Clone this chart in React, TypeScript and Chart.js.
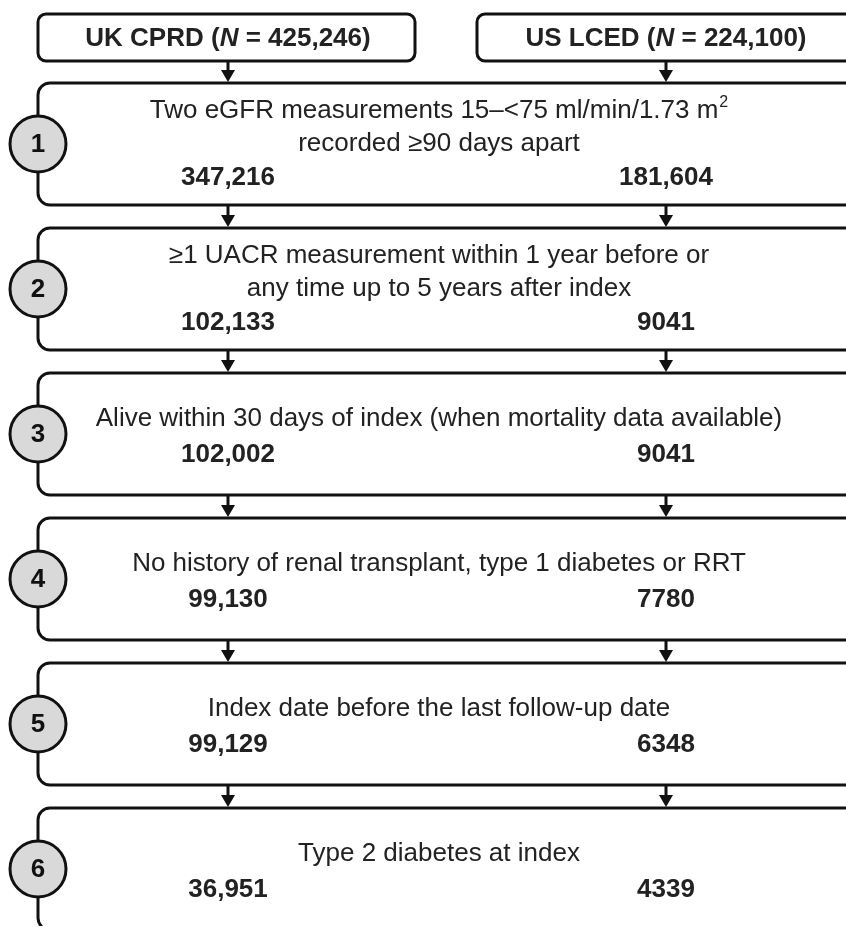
import React, { useEffect, useRef } from 'react';
import { Chart, registerables } from 'chart.js';

Chart.register(...registerables);

// ---- data ----
const cohortNames = ['UK CPRD', 'US LCED'];
const cohortTotals = [425246, 224100];
const stepIds = [1, 2, 3, 4, 5, 6];
const stepCriteria: string[][] = [
  ['Two eGFR measurements 15–<75 ml/min/1.73 m²', 'recorded ≥90 days apart'],
  ['≥1 UACR measurement within 1 year before or', 'any time up to 5 years after index'],
  ['Alive within 30 days of index (when mortality data available)'],
  ['No history of renal transplant, type 1 diabetes or RRT'],
  ['Index date before the last follow-up date'],
  ['Type 2 diabetes at index'],
];
const ukCounts = [347216, 102133, 102002, 99130, 99129, 36951];
const usCounts = [181604, 9041, 9041, 7780, 6348, 4339];

// ---- layout (scale units) ----
const W = 846;
const H = 926;
const COL_X = [228, 666];
const TEXT_X = 439;
const BOX_LEFT = 38;
const BOX_RIGHT = 900;
const Y_MIN = 1 - 144 / 145;
const Y_MAX = 1 + 782 / 145;
const HEADER_Y = 1 - 106.5 / 145;

const FONT = '"Liberation Sans", Arial, Helvetica, sans-serif';
const LINE = '#111111';
const TEXT = '#222222';

function fmt(n: number): string {
  if (n < 10000) return String(n);
  const s = String(n);
  let out = '';
  for (let i = 0; i < s.length; i++) {
    if (i > 0 && (s.length - i) % 3 === 0) out += ',';
    out += s[i];
  }
  return out;
}

function roundRectPath(ctx: CanvasRenderingContext2D, x0: number, y0: number, x1: number, y1: number, r: number) {
  ctx.beginPath();
  ctx.moveTo(x0 + r, y0);
  ctx.lineTo(x1 - r, y0);
  ctx.arcTo(x1, y0, x1, y0 + r, r);
  ctx.lineTo(x1, y1 - r);
  ctx.arcTo(x1, y1, x1 - r, y1, r);
  ctx.lineTo(x0 + r, y1);
  ctx.arcTo(x0, y1, x0, y1 - r, r);
  ctx.lineTo(x0, y0 + r);
  ctx.arcTo(x0, y0, x0 + r, y0, r);
  ctx.closePath();
}

function drawArrow(ctx: CanvasRenderingContext2D, x: number, yFrom: number, yTo: number) {
  const head = 12;
  ctx.beginPath();
  ctx.moveTo(x, yFrom);
  ctx.lineTo(x, yTo - head + 1);
  ctx.lineWidth = 3;
  ctx.strokeStyle = LINE;
  ctx.stroke();
  ctx.beginPath();
  ctx.moveTo(x - 7, yTo - head);
  ctx.lineTo(x + 7, yTo - head);
  ctx.lineTo(x, yTo);
  ctx.closePath();
  ctx.fillStyle = LINE;
  ctx.fill();
}

function drawCriterion(ctx: CanvasRenderingContext2D, text: string, cx: number, cy: number) {
  const main = text.replace('²', '');
  const hasSup = text.indexOf('²') >= 0;
  ctx.font = `26px ${FONT}`;
  const wMain = ctx.measureText(main).width;
  let wSup = 0;
  if (hasSup) {
    ctx.font = `16px ${FONT}`;
    wSup = ctx.measureText('2').width + 1;
  }
  const x0 = cx - (wMain + wSup) / 2;
  ctx.fillStyle = TEXT;
  ctx.textAlign = 'left';
  ctx.textBaseline = 'middle';
  ctx.font = `26px ${FONT}`;
  ctx.fillText(main, x0, cy);
  if (hasSup) {
    ctx.font = `16px ${FONT}`;
    ctx.fillText('2', x0 + wMain + 1, cy - 8);
  }
}

function drawHeader(ctx: CanvasRenderingContext2D, name: string, total: number, cx: number, cy: number) {
  const segs: [string, string][] = [
    [name + ' (', `bold 26px ${FONT}`],
    ['N', `italic bold 26px ${FONT}`],
    [' = ' + fmt(total) + ')', `bold 26px ${FONT}`],
  ];
  let w = 0;
  for (const [t, f] of segs) {
    ctx.font = f;
    w += ctx.measureText(t).width;
  }
  let x = cx - w / 2;
  ctx.fillStyle = TEXT;
  ctx.textAlign = 'left';
  ctx.textBaseline = 'middle';
  for (const [t, f] of segs) {
    ctx.font = f;
    ctx.fillText(t, x, cy);
    x += ctx.measureText(t).width;
  }
}

const flowPlugin = {
  id: 'flowPlugin',
  afterDatasetsDraw(chart: any) {
    const ctx: CanvasRenderingContext2D = chart.ctx;
    const xs = chart.scales.x;
    const ys = chart.scales.y;
    const px = (v: number) => xs.getPixelForValue(v);
    const py = (v: number) => ys.getPixelForValue(v);
    const half = 61;
    ctx.save();

    // header boxes
    const hy = py(HEADER_Y);
    const hTop = hy - 23.5;
    const hBot = hy + 23.5;
    const headerBoxes = [
      [px(BOX_LEFT), px(415)],
      [px(477), px(BOX_RIGHT)],
    ];
    headerBoxes.forEach(([a, b], i) => {
      roundRectPath(ctx, a, hTop, b, hBot, 8);
      ctx.fillStyle = '#ffffff';
      ctx.fill();
      ctx.lineWidth = 3;
      ctx.strokeStyle = LINE;
      ctx.stroke();
      drawHeader(ctx, cohortNames[i], cohortTotals[i], px(COL_X[i]), hy + 1);
    });

    // step boxes
    stepIds.forEach((id, i) => {
      const cy = py(id);
      const top = cy - half;
      const bot = cy + half;
      const prevBottom = i === 0 ? hBot : py(stepIds[i - 1]) + half;
      COL_X.forEach((cx) => drawArrow(ctx, px(cx), prevBottom + 1, top - 1));

      roundRectPath(ctx, px(BOX_LEFT), top, px(BOX_RIGHT), bot, 12);
      ctx.fillStyle = '#ffffff';
      ctx.fill();
      ctx.lineWidth = 3;
      ctx.strokeStyle = LINE;
      ctx.stroke();

      // circle
      ctx.beginPath();
      ctx.arc(px(BOX_LEFT), cy, 28, 0, Math.PI * 2);
      ctx.fillStyle = '#d9d9d9';
      ctx.fill();
      ctx.lineWidth = 3;
      ctx.strokeStyle = LINE;
      ctx.stroke();
      ctx.fillStyle = '#111111';
      ctx.font = `bold 26px ${FONT}`;
      ctx.textAlign = 'center';
      ctx.textBaseline = 'middle';
      ctx.fillText(String(id), px(BOX_LEFT), cy + 1);

      // criteria text
      const lines = stepCriteria[i];
      if (lines.length === 2) {
        drawCriterion(ctx, lines[0], px(TEXT_X), cy - 33);
        drawCriterion(ctx, lines[1], px(TEXT_X), cy);
      } else {
        drawCriterion(ctx, lines[0], px(TEXT_X), cy - 15);
      }
    });

    // counts from dataset elements
    chart.data.datasets.forEach((ds: any, di: number) => {
      const meta = chart.getDatasetMeta(di);
      meta.data.forEach((el: any, i: number) => {
        const off = stepCriteria[i].length === 2 ? 34 : 21;
        ctx.fillStyle = TEXT;
        ctx.font = `bold 26px ${FONT}`;
        ctx.textAlign = 'center';
        ctx.textBaseline = 'middle';
        ctx.fillText(fmt(ds.data[i].count), el.x, el.y + off);
      });
    });

    ctx.restore();
  },
};

export default function App() {
  const ref = useRef<HTMLCanvasElement | null>(null);
  useEffect(() => {
    if (!ref.current) return;
    const chart = new Chart(ref.current, {
      type: 'scatter',
      data: {
        datasets: [
          {
            label: cohortNames[0],
            data: ukCounts.map((v, i) => ({ x: COL_X[0], y: stepIds[i], count: v })) as any,
            pointRadius: 0,
          },
          {
            label: cohortNames[1],
            data: usCounts.map((v, i) => ({ x: COL_X[1], y: stepIds[i], count: v })) as any,
            pointRadius: 0,
          },
        ],
      },
      options: {
        animation: false,
        responsive: false,
        devicePixelRatio: 1,
        events: [],
        layout: { padding: 0 },
        plugins: { legend: { display: false }, tooltip: { enabled: false } },
        scales: {
          x: { type: 'linear', display: false, min: 0, max: W },
          y: { type: 'linear', display: false, reverse: true, min: Y_MIN, max: Y_MAX },
        },
      },
      plugins: [flowPlugin],
    });
    return () => chart.destroy();
  }, []);
  return (
    <div style={{ position: 'absolute', left: 0, top: 0, width: W, height: H, background: '#fff' }}>
      <canvas ref={ref} width={W} height={H} style={{ display: 'block' }} />
    </div>
  );
}
